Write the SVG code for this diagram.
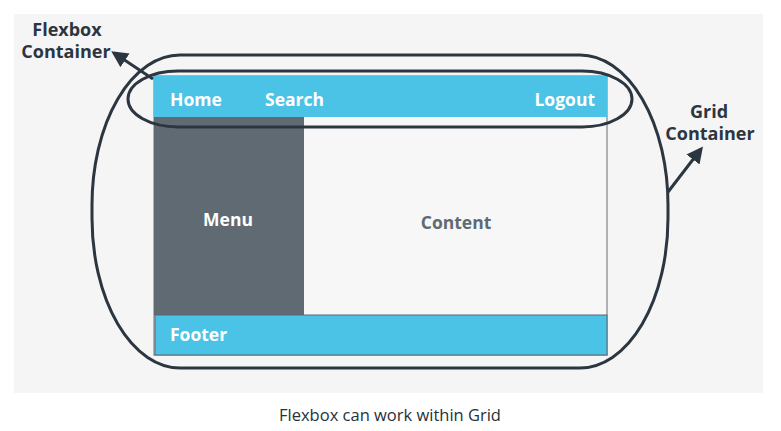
<svg xmlns="http://www.w3.org/2000/svg" width="781" height="431" viewBox="0 0 781 431">
<style>
.lbl{font-family:"Open Sans","Noto Sans",sans-serif;font-weight:bold;font-size:17.5px;fill:#ffffff}
.note{font-family:"Open Sans","Noto Sans",sans-serif;font-weight:bold;font-size:18px;fill:#2b3640}
.ring{fill:none;stroke:#2b3640;stroke-width:3}
.cap{font-family:"Open Sans","Noto Sans",sans-serif;font-size:16.5px;fill:#26313a}
</style>
<defs>
<marker id="ah" viewBox="0 0 10 10" refX="8" refY="5" markerWidth="5.5" markerHeight="5.5" orient="auto"><path d="M0,0 L10,5 L0,10 z" fill="#2b3640"/></marker>
</defs>
<rect width="781" height="431" fill="#ffffff"/>
<rect x="14" y="14" width="749" height="379" fill="#f5f5f5"/>
<g id="content"><rect x="154" y="76" width="453" height="279" fill="#f7f7f7" stroke="#9a9a9a" stroke-width="1.5"/>
<text x="456" y="229" text-anchor="middle" class="lbl" style="fill:#5f6a72">Content</text></g>
<g id="header"><rect x="154" y="76" width="453" height="41" fill="#4bc3e6"/>
<text x="170" y="106" class="lbl">Home</text>
<text x="265" y="106" class="lbl">Search</text>
<text x="595" y="106" text-anchor="end" class="lbl">Logout</text></g>
<g id="menu"><rect x="154" y="117" width="150" height="198" fill="#5f6a72"/>
<text x="228" y="226" text-anchor="middle" class="lbl">Menu</text></g>
<g id="footer"><rect x="155" y="315" width="452" height="40" fill="#4bc3e6" stroke="#5a6670" stroke-width="1"/>
<text x="170" y="341" class="lbl">Footer</text></g>
<g id="grid-container"><rect x="92" y="55" width="576" height="313" rx="88" ry="150" class="ring"/></g>
<g id="flexbox-container"><rect x="128" y="71" width="504" height="56" rx="50" ry="28" class="ring"/></g>
<g id="connectors">
<line x1="153" y1="79" x2="114" y2="53" stroke="#2b3640" stroke-width="3" marker-end="url(#ah)"/>
<line x1="668" y1="192" x2="701" y2="149" stroke="#2b3640" stroke-width="3" marker-end="url(#ah)"/>
</g>
<g id="flexbox-label"><text x="67" y="36" text-anchor="middle" class="note">Flexbox</text>
<text x="66" y="58" text-anchor="middle" class="note">Container</text></g>
<g id="grid-label"><text x="709" y="118" text-anchor="middle" class="note">Grid</text>
<text x="710" y="140" text-anchor="middle" class="note">Container</text></g>
<text x="390" y="421" text-anchor="middle" class="cap">Flexbox can work within Grid</text>
</svg>
